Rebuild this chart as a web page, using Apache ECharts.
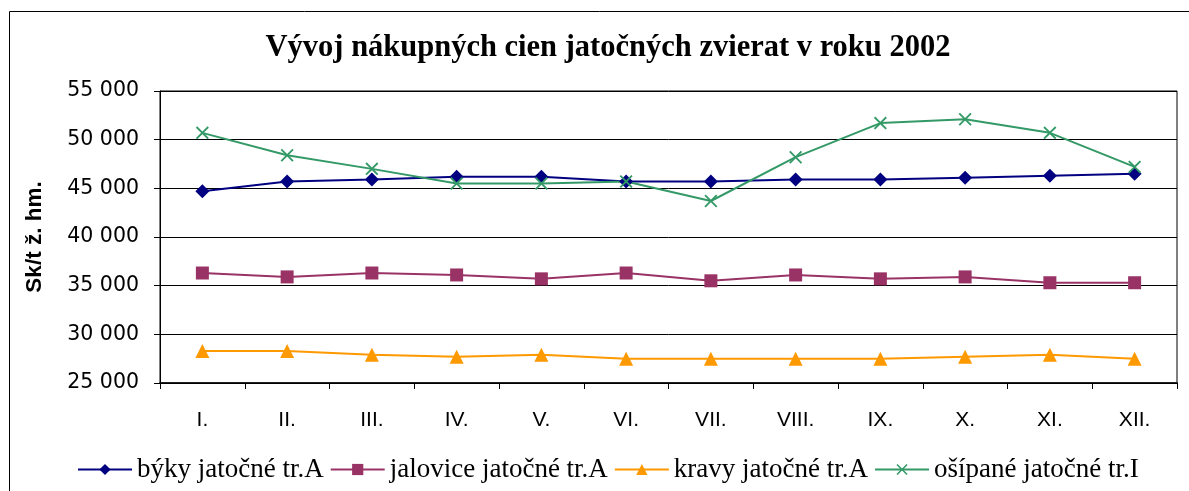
<!DOCTYPE html>
<html>
<head>
<meta charset="utf-8">
<script src="https://cdn.jsdelivr.net/npm/echarts@6/dist/echarts.min.js"></script>
<style>
  html, body { margin: 0; padding: 0; background: #fff; }
  #chart { width: 1189px; height: 491px; }
</style>
</head>
<body>
<div id="chart"></div>
<script>
const months = ["I.", "II.", "III.", "IV.", "V.", "VI.", "VII.", "VIII.", "IX.", "X.", "XI.", "XII."];

const byky = [44700, 45700, 45900, 46200, 46200, 45700, 45700, 45900, 45900, 46100, 46300, 46500];
const jalovice = [36300, 35900, 36300, 36100, 35700, 36300, 35500, 36100, 35700, 35900, 35300, 35300];
const kravy = [28300, 28300, 27900, 27700, 27900, 27500, 27500, 27500, 27500, 27700, 27900, 27500];
const osipane = [50700, 48400, 47000, 45500, 45500, 45700, 43700, 48200, 51700, 52100, 50700, 47200];

const seriesNames = ["býky jatočné tr.A", "jalovice jatočné tr.A", "kravy jatočné tr.A", "ošípané jatočné tr.I"];

const crossSymbol = "path://M0,1L1,0L5,4L9,0L10,1L6,5L10,9L9,10L5,6L1,10L0,9L4,5Z";

function lineSeries(name, data, color, symbol, size) {
  return {
    name: name,
    type: "line",
    data: data,
    symbol: symbol,
    symbolSize: size,
    showAllSymbol: true,
    lineStyle: { color: color, width: 2 },
    itemStyle: { color: color },
    animation: false
  };
}

const chart = echarts.init(document.getElementById("chart"));

chart.setOption({
  backgroundColor: "#fff",
  title: {
    text: "Vývoj nákupných cien jatočných zvierat v roku 2002",
    left: 603,
    textAlign: "center",
    top: 28,
    textStyle: { fontFamily: "Liberation Serif", fontWeight: "bold", fontSize: 30.5, color: "#000" }
  },
  graphic: [
    {
      type: "rect",
      shape: { x: 9.5, y: 11.5, width: 1200, height: 500 },
      style: { fill: "none", stroke: "#000", lineWidth: 1 },
      silent: true
    }
  ],
  grid: { left: 160, right: 12, top: 91, bottom: 108, show: true, borderColor: "#000", borderWidth: 1 },
  legend: {
    left: 72,
    top: 451,
    itemWidth: 54,
    itemHeight: 14,
    itemGap: 6,
    textStyle: { fontFamily: "Liberation Serif", fontSize: 27, color: "#000" },
    data: seriesNames
  },
  xAxis: {
    type: "category",
    data: months,
    boundaryGap: true,
    axisLine: { lineStyle: { color: "#000", width: 1.5 } },
    axisTick: { show: true, inside: false, length: 6, lineStyle: { color: "#000" } },
    axisLabel: { color: "#000", fontFamily: "Liberation Sans", fontSize: 21, margin: 27 }
  },
  yAxis: {
    type: "value",
    min: 25000,
    max: 55000,
    interval: 5000,
    name: "Sk/t ž. hm.",
    nameLocation: "middle",
    nameGap: 114,
    nameRotate: 90,
    nameTextStyle: { fontFamily: "Liberation Sans", fontWeight: "bold", fontSize: 22.5, color: "#000" },
    axisLine: { show: true, lineStyle: { color: "#000" } },
    axisTick: { show: true, inside: false, length: 6, lineStyle: { color: "#000" } },
    splitLine: { show: true, lineStyle: { color: "#000", width: 1 } },
    axisLabel: {
      color: "#000",
      fontFamily: "DejaVu Sans",
      fontSize: 20.5,
      margin: 21,
      formatter: (v) => String(v).replace(/\B(?=(\d{3})+(?!\d))/g, " ")
    }
  },
  series: [
    lineSeries(seriesNames[0], byky, "#000080", "diamond", 14),
    lineSeries(seriesNames[1], jalovice, "#993366", "rect", 13),
    lineSeries(seriesNames[2], kravy, "#FF9900", "triangle", 14),
    lineSeries(seriesNames[3], osipane, "#339966", crossSymbol, 13)
  ]
});
</script>
</body>
</html>
